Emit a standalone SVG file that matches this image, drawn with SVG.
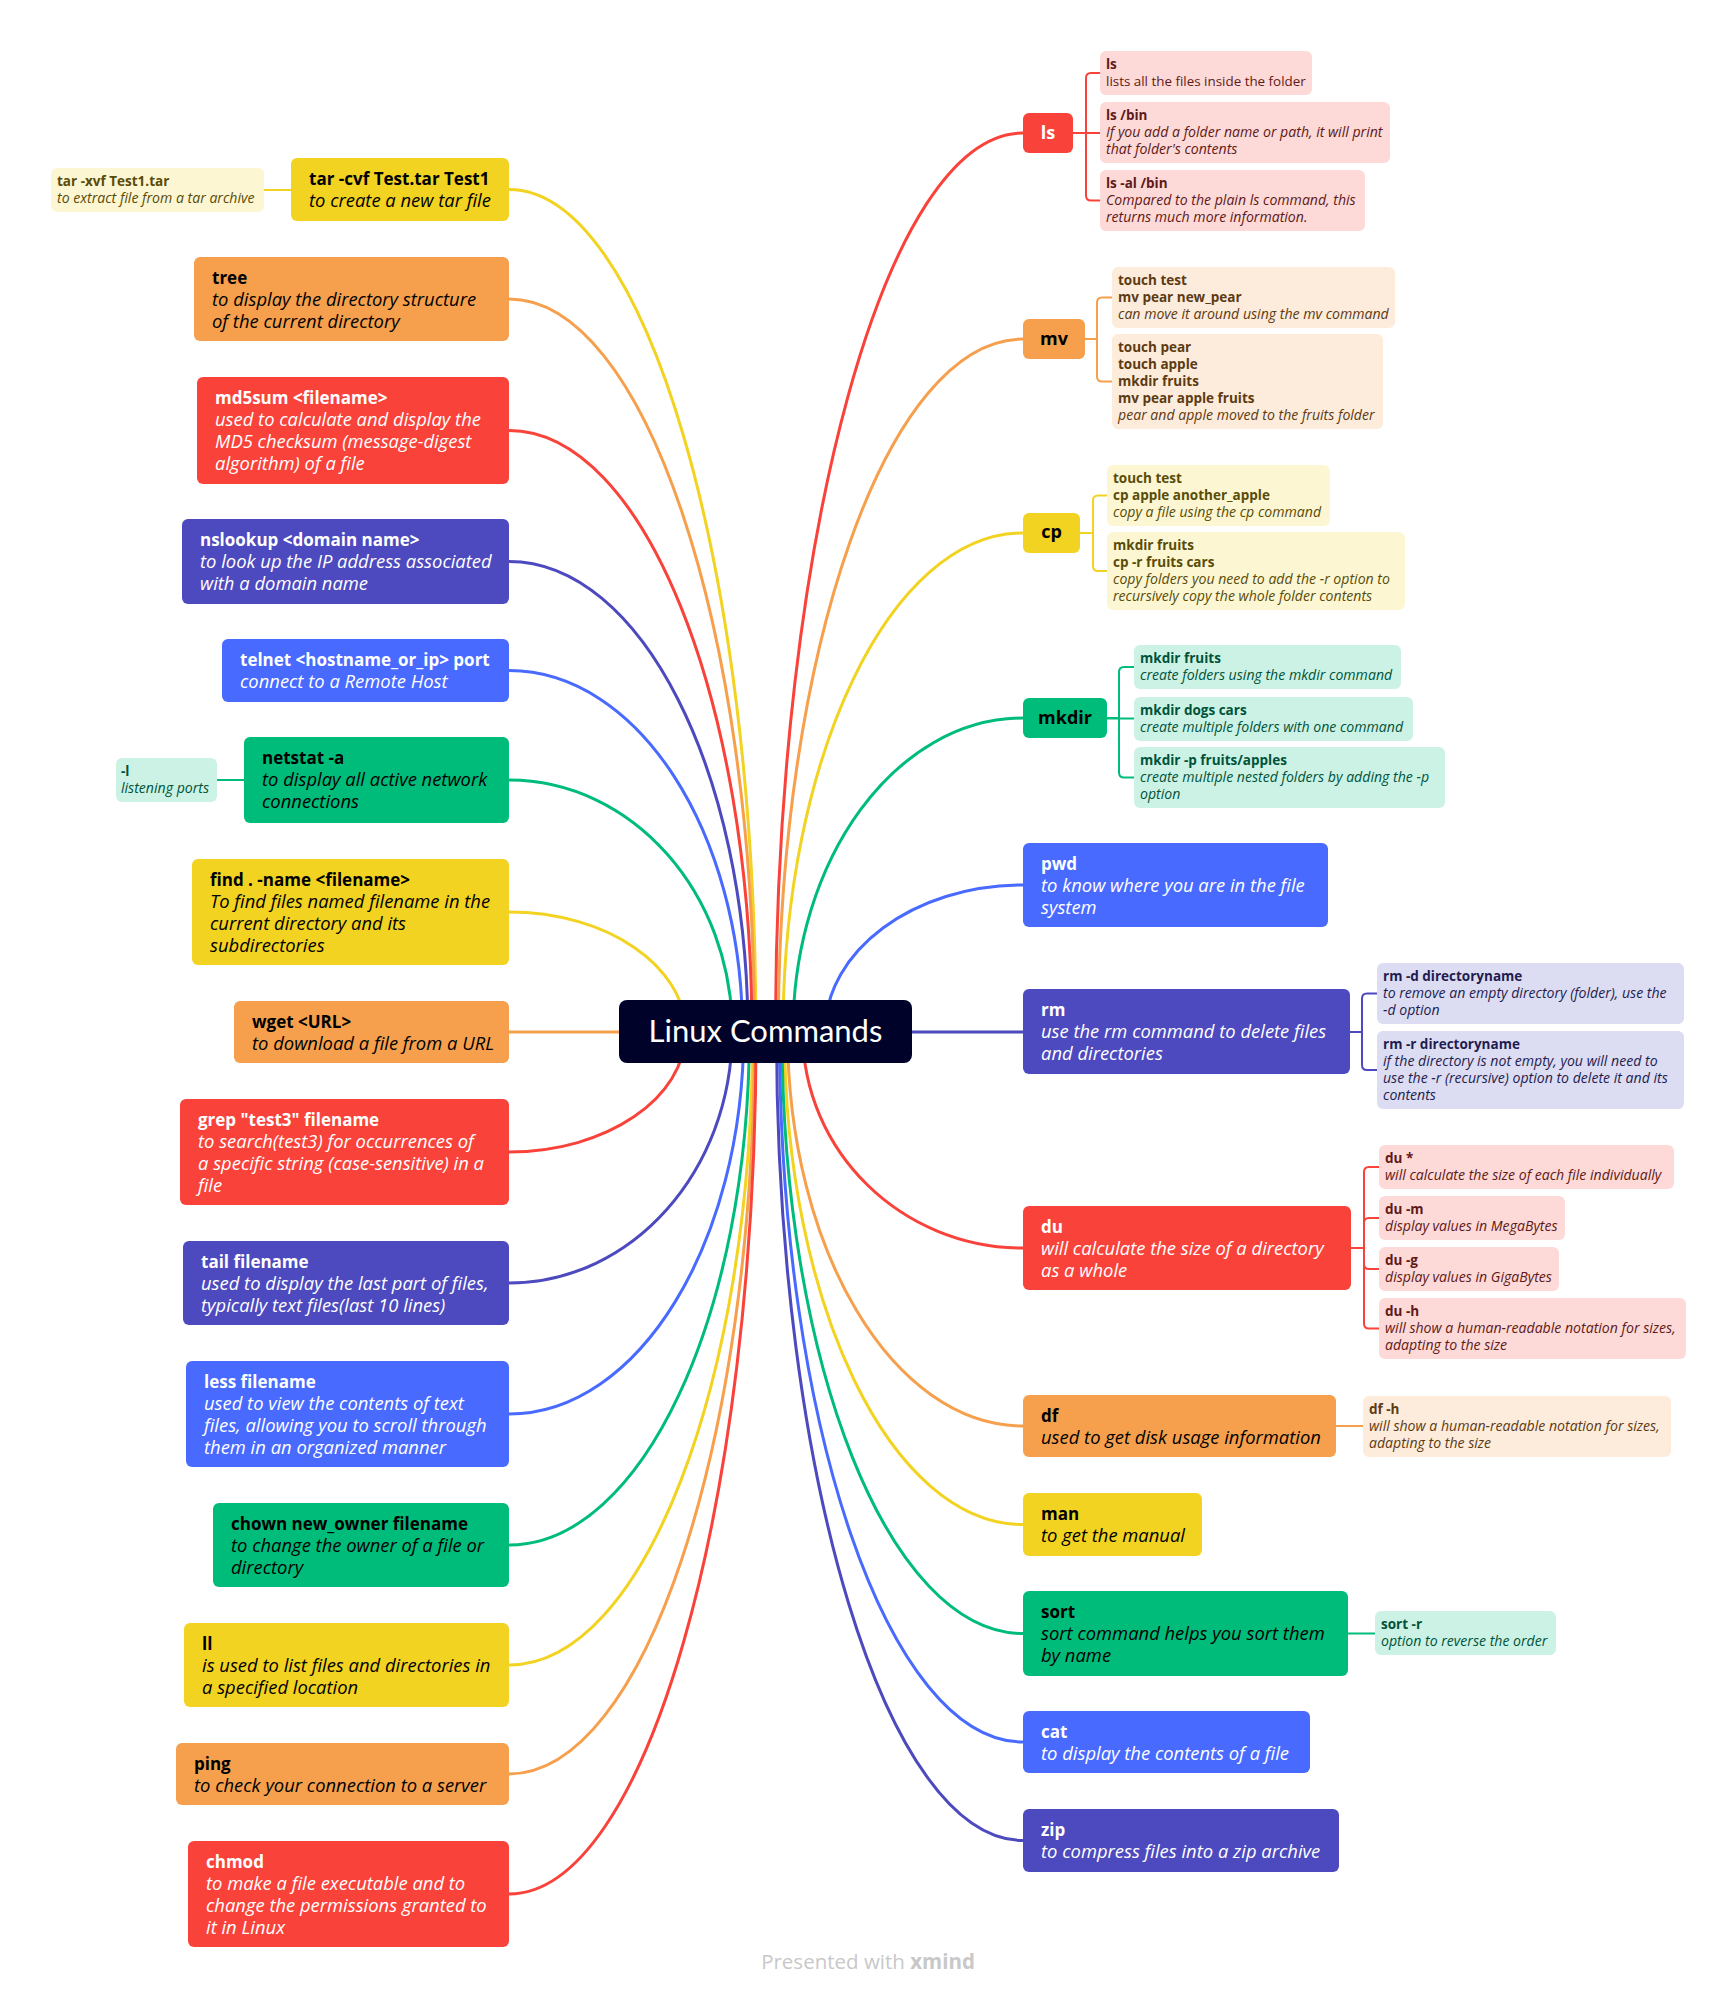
<svg xmlns="http://www.w3.org/2000/svg" width="1734" height="1998" viewBox="0 0 1734 1998">
<style>
text{font-family:"Open Sans","Liberation Sans",sans-serif}
.t{font-size:17px;font-weight:700}
.d{font-size:18.4px;font-style:italic}
.w{fill:#FFFFFF}
.k{fill:#000000}
.c1{font-size:18px;font-weight:700;text-anchor:middle}
.st{font-size:13.5px;font-weight:700}
.sd{font-size:14.1px;font-style:italic}
.sr{font-size:13.4px}
.cn{fill:none;stroke-width:3;stroke-linecap:round}
.br{fill:none;stroke-width:2}
.red{fill:#F9423A}.ora{fill:#F6A04D}.yel{fill:#F3D321}.grn{fill:#00BC7B}.blu{fill:#486AFF}.pur{fill:#4D49BE}
.sred{fill:#FDD9D8}.sora{fill:#FDECDB}.syel{fill:#FDF6D3}.sgrn{fill:#CCF2E5}.spur{fill:#DCDCF2}
.tred{fill:#5E1A17}.tora{fill:#5C3A12}.tyel{fill:#584C08}.tgrn{fill:#00523A}.tpur{fill:#1F1C50}
</style>
<rect width="1734" height="1998" fill="#FFFFFF"/>
<g id="connectors">
<path class="cn" stroke="#F3D321" d="M755.9,1032 C755.9,566.7 645.4,189.5 509,189.5"/>
<path class="cn" stroke="#F6A04D" d="M754.4,1032 C754.4,627.2 644.5,299 509,299"/>
<path class="cn" stroke="#F9423A" d="M751.9,1032 C751.9,699.8 643.2,430.5 509,430.5"/>
<path class="cn" stroke="#4D49BE" d="M747.9,1032 C747.9,772.1 640.9,561.5 509,561.5"/>
<path class="cn" stroke="#486AFF" d="M742.5,1032 C742.5,832.3 638,670.5 509,670.5"/>
<path class="cn" stroke="#00BC7B" d="M732.3,1032 C732.3,892.8 632.3,780 509,780"/>
<path class="cn" stroke="#F3D321" d="M685.6,1032 C685.6,965.7 606.5,912 509,912"/>
<path class="cn" stroke="#F6A04D" d="M766,1032 L509,1032"/>
<path class="cn" stroke="#F9423A" d="M685.6,1032 C685.6,1098.3 606.5,1152 509,1152"/>
<path class="cn" stroke="#4D49BE" d="M732.1,1032 C732.1,1170.6 632.2,1283 509,1283"/>
<path class="cn" stroke="#486AFF" d="M743.7,1032 C743.7,1243 638.6,1414 509,1414"/>
<path class="cn" stroke="#00BC7B" d="M749.4,1032 C749.4,1315.3 641.8,1545 509,1545"/>
<path class="cn" stroke="#F3D321" d="M752.6,1032 C752.6,1381.6 643.5,1665 509,1665"/>
<path class="cn" stroke="#F6A04D" d="M754.5,1032 C754.5,1441.8 644.6,1774 509,1774"/>
<path class="cn" stroke="#F9423A" d="M756.1,1032 C756.1,1508.1 645.5,1894 509,1894"/>
<path class="cn" stroke="#F9423A" d="M775.5,1032 C775.5,535.5 886.3,133 1023,133"/>
<path class="cn" stroke="#F6A04D" d="M778.3,1032 C778.3,649.3 887.9,339 1023,339"/>
<path class="cn" stroke="#F3D321" d="M783,1032 C783,756.4 890.4,533 1023,533"/>
<path class="cn" stroke="#00BC7B" d="M793,1032 C793,858.6 896,718 1023,718"/>
<path class="cn" stroke="#486AFF" d="M825,1032 C825,950.8 913.6,885 1023,885"/>
<path class="cn" stroke="#4D49BE" d="M766,1032 L1023,1032"/>
<path class="cn" stroke="#F9423A" d="M802.7,1032 C802.7,1151.3 901.3,1248 1023,1248"/>
<path class="cn" stroke="#F6A04D" d="M787.6,1032 C787.6,1249.6 893,1426 1023,1426"/>
<path class="cn" stroke="#F3D321" d="M784.5,1032 C784.5,1304 891,1524.5 1023,1524.5"/>
<path class="cn" stroke="#00BC7B" d="M782,1032 C782,1364.2 889.5,1633.5 1023,1633.5"/>
<path class="cn" stroke="#486AFF" d="M779.5,1032 C779.5,1424.1 888.3,1742 1023,1742"/>
<path class="cn" stroke="#4D49BE" d="M776.5,1032 C776.5,1478.5 886.9,1840.5 1023,1840.5"/>
<!-- sub connectors -->
<path class="br" stroke="#F3D321" d="M291,190 H264"/>
<path class="br" stroke="#00BC7B" d="M244,780 H217"/>
<path class="br" stroke="#F9423A" d="M1073,133 H1086 V78 Q1086,73 1091,73 H1100 M1073,133 H1100 M1086,133 V195.5 Q1086,200.5 1091,200.5 H1100"/>
<path class="br" stroke="#F6A04D" d="M1085,339 H1097 V302.5 Q1097,297.5 1102,297.5 H1112 M1097,339 V376.5 Q1097,381.5 1102,381.5 H1112"/>
<path class="br" stroke="#F3D321" d="M1080,533 H1093 V500.5 Q1093,495.5 1098,495.5 H1107 M1093,533 V566 Q1093,571 1098,571 H1107"/>
<path class="br" stroke="#00BC7B" d="M1107,718 H1119 V672 Q1119,667 1124,667 H1134 M1107,718.5 H1134 M1119,718 V772.5 Q1119,777.5 1124,777.5 H1134"/>
<path class="br" stroke="#4D49BE" d="M1350,1032 H1362 V998.5 Q1362,993.5 1367,993.5 H1377 M1362,1032 V1065 Q1362,1070 1367,1070 H1377"/>
<path class="br" stroke="#F9423A" d="M1351,1248 H1364 V1172 Q1364,1167 1369,1167 H1379 M1364,1223 Q1364,1218 1369,1218 H1379 M1364,1248 V1264 Q1364,1269 1369,1269 H1379 M1364,1264 V1323.5 Q1364,1328.5 1369,1328.5 H1379 M1364,1223 V1248"/>
<path class="br" stroke="#F6A04D" d="M1336,1426 H1363"/>
<path class="br" stroke="#00BC7B" d="M1348,1633.5 H1375"/>
</g>

<g id="center">
<rect x="619" y="1000" width="293" height="63" rx="8" fill="#000229"/>
<text x="765.5" y="1042" font-size="31" text-anchor="middle" class="w" style="font-family:Lato,'Open Sans',sans-serif">Linux Commands</text>
</g>

<!-- left nodes -->
<g id="tar">
<rect x="291" y="158" width="218" height="63" rx="6" class="yel"/>
<text class="t k" x="309" y="185">tar -cvf Test.tar Test1</text>
<text class="d k" x="309" y="207">to create a new tar file</text>
</g>
<g id="tar-xvf">
<rect x="51" y="168" width="213" height="44" rx="6" class="syel"/>
<text class="st tyel" x="57" y="186">tar -xvf Test1.tar</text>
<text class="sd tyel" x="57" y="203">to extract file from a tar archive</text>
</g>
<g id="tree">
<rect x="194" y="257" width="315" height="84" rx="6" class="ora"/>
<text class="t k" x="212" y="284">tree</text>
<text class="d k" x="212" y="306">to display the directory structure</text>
<text class="d k" x="212" y="328">of the current directory</text>
</g>
<g id="md5sum">
<rect x="197" y="377" width="312" height="107" rx="6" class="red"/>
<text class="t w" x="215" y="404">md5sum &lt;filename&gt;</text>
<text class="d w" x="215" y="426">used to calculate and display the</text>
<text class="d w" x="215" y="448">MD5 checksum (message-digest</text>
<text class="d w" x="215" y="470">algorithm) of a file</text>
</g>
<g id="nslookup">
<rect x="182" y="519" width="327" height="85" rx="6" class="pur"/>
<text class="t w" x="200" y="546">nslookup &lt;domain name&gt;</text>
<text class="d w" x="200" y="568">to look up the IP address associated</text>
<text class="d w" x="200" y="590">with a domain name</text>
</g>
<g id="telnet">
<rect x="222" y="639" width="287" height="63" rx="6" class="blu"/>
<text class="t w" x="240" y="666">telnet &lt;hostname_or_ip&gt; port</text>
<text class="d w" x="240" y="688">connect to a Remote Host</text>
</g>
<g id="netstat">
<rect x="244" y="737" width="265" height="86" rx="6" class="grn"/>
<text class="t k" x="262" y="764">netstat -a</text>
<text class="d k" x="262" y="786">to display all active network</text>
<text class="d k" x="262" y="808">connections</text>
</g>
<g id="netstat-l">
<rect x="116" y="758" width="101" height="44" rx="6" class="sgrn"/>
<text class="st tgrn" x="121" y="776">-l</text>
<text class="sd tgrn" x="121" y="793">listening ports</text>
</g>
<g id="find">
<rect x="192" y="859" width="317" height="106" rx="6" class="yel"/>
<text class="t k" x="210" y="886">find . -name &lt;filename&gt;</text>
<text class="d k" x="210" y="908">To find files named filename in the</text>
<text class="d k" x="210" y="930">current directory and its</text>
<text class="d k" x="210" y="952">subdirectories</text>
</g>
<g id="wget">
<rect x="234" y="1001" width="275" height="62" rx="6" class="ora"/>
<text class="t k" x="252" y="1028">wget &lt;URL&gt;</text>
<text class="d k" x="252" y="1050">to download a file from a URL</text>
</g>
<g id="grep">
<rect x="180" y="1099" width="329" height="106" rx="6" class="red"/>
<text class="t w" x="198" y="1126">grep "test3" filename</text>
<text class="d w" x="198" y="1148">to search(test3) for occurrences of</text>
<text class="d w" x="198" y="1170">a specific string (case-sensitive) in a</text>
<text class="d w" x="198" y="1192">file</text>
</g>
<g id="tail">
<rect x="183" y="1241" width="326" height="84" rx="6" class="pur"/>
<text class="t w" x="201" y="1268">tail filename</text>
<text class="d w" x="201" y="1290">used to display the last part of files,</text>
<text class="d w" x="201" y="1312">typically text files(last 10 lines)</text>
</g>
<g id="less">
<rect x="186" y="1361" width="323" height="106" rx="6" class="blu"/>
<text class="t w" x="204" y="1388">less filename</text>
<text class="d w" x="204" y="1410">used to view the contents of text</text>
<text class="d w" x="204" y="1432">files, allowing you to scroll through</text>
<text class="d w" x="204" y="1454">them in an organized manner</text>
</g>
<g id="chown">
<rect x="213" y="1503" width="296" height="84" rx="6" class="grn"/>
<text class="t k" x="231" y="1530">chown new_owner filename</text>
<text class="d k" x="231" y="1552">to change the owner of a file or</text>
<text class="d k" x="231" y="1574">directory</text>
</g>
<g id="ll">
<rect x="184" y="1623" width="325" height="84" rx="6" class="yel"/>
<text class="t k" x="202" y="1650">ll</text>
<text class="d k" x="202" y="1672">is used to list files and directories in</text>
<text class="d k" x="202" y="1694">a specified location</text>
</g>
<g id="ping">
<rect x="176" y="1743" width="333" height="62" rx="6" class="ora"/>
<text class="t k" x="194" y="1770">ping</text>
<text class="d k" x="194" y="1792">to check your connection to a server</text>
</g>
<g id="chmod">
<rect x="188" y="1841" width="321" height="106" rx="6" class="red"/>
<text class="t w" x="206" y="1868">chmod</text>
<text class="d w" x="206" y="1890">to make a file executable and to</text>
<text class="d w" x="206" y="1912">change the permissions granted to</text>
<text class="d w" x="206" y="1934">it in Linux</text>
</g>

<!-- right nodes -->
<g id="ls">
<rect x="1023" y="113" width="50" height="40" rx="6" class="red"/>
<text class="c1 w" x="1048" y="139">ls</text>
</g>
<g id="ls-1">
<rect x="1100" y="51" width="212" height="44" rx="6" class="sred"/>
<text class="st tred" x="1106" y="69">ls</text>
<text class="sr tred" x="1106" y="86">lists all the files inside the folder</text>
</g>
<g id="ls-2">
<rect x="1100" y="102" width="290" height="61" rx="6" class="sred"/>
<text class="st tred" x="1106" y="120">ls /bin</text>
<text class="sd tred" x="1106" y="137">If you add a folder name or path, it will print</text>
<text class="sd tred" x="1106" y="154">that folder's contents</text>
</g>
<g id="ls-3">
<rect x="1100" y="170" width="265" height="61" rx="6" class="sred"/>
<text class="st tred" x="1106" y="188">ls -al /bin</text>
<text class="sd tred" x="1106" y="205">Compared to the plain ls command, this</text>
<text class="sd tred" x="1106" y="222">returns much more information.</text>
</g>
<g id="mv">
<rect x="1023" y="319" width="62" height="40" rx="6" class="ora"/>
<text class="c1 k" x="1054" y="345">mv</text>
</g>
<g id="mv-1">
<rect x="1112" y="267" width="283" height="61" rx="6" class="sora"/>
<text class="st tora" x="1118" y="285">touch test</text>
<text class="st tora" x="1118" y="302">mv pear new_pear</text>
<text class="sd tora" x="1118" y="319">can move it around using the mv command</text>
</g>
<g id="mv-2">
<rect x="1112" y="334" width="271" height="95" rx="6" class="sora"/>
<text class="st tora" x="1118" y="352">touch pear</text>
<text class="st tora" x="1118" y="369">touch apple</text>
<text class="st tora" x="1118" y="386">mkdir fruits</text>
<text class="st tora" x="1118" y="403">mv pear apple fruits</text>
<text class="sd tora" x="1118" y="420">pear and apple moved to the fruits folder</text>
</g>
<g id="cp">
<rect x="1023" y="513" width="57" height="40" rx="6" class="yel"/>
<text class="c1 k" x="1051.5" y="538">cp</text>
</g>
<g id="cp-1">
<rect x="1107" y="465" width="223" height="61" rx="6" class="syel"/>
<text class="st tyel" x="1113" y="483">touch test</text>
<text class="st tyel" x="1113" y="500">cp apple another_apple</text>
<text class="sd tyel" x="1113" y="517">copy a file using the cp command</text>
</g>
<g id="cp-2">
<rect x="1107" y="532" width="298" height="78" rx="6" class="syel"/>
<text class="st tyel" x="1113" y="550">mkdir fruits</text>
<text class="st tyel" x="1113" y="567">cp -r fruits cars</text>
<text class="sd tyel" x="1113" y="584">copy folders you need to add the -r option to</text>
<text class="sd tyel" x="1113" y="601">recursively copy the whole folder contents</text>
</g>
<g id="mkdir">
<rect x="1023" y="698" width="84" height="40" rx="6" class="grn"/>
<text class="c1 k" x="1065" y="724">mkdir</text>
</g>
<g id="mkdir-1">
<rect x="1134" y="645" width="267" height="44" rx="6" class="sgrn"/>
<text class="st tgrn" x="1140" y="663">mkdir fruits</text>
<text class="sd tgrn" x="1140" y="680">create folders using the mkdir command</text>
</g>
<g id="mkdir-2">
<rect x="1134" y="697" width="279" height="44" rx="6" class="sgrn"/>
<text class="st tgrn" x="1140" y="715">mkdir dogs cars</text>
<text class="sd tgrn" x="1140" y="732">create multiple folders with one command</text>
</g>
<g id="mkdir-3">
<rect x="1134" y="747" width="311" height="61" rx="6" class="sgrn"/>
<text class="st tgrn" x="1140" y="765">mkdir -p fruits/apples</text>
<text class="sd tgrn" x="1140" y="782">create multiple nested folders by adding the -p</text>
<text class="sd tgrn" x="1140" y="799">option</text>
</g>
<g id="pwd">
<rect x="1023" y="843" width="305" height="84" rx="6" class="blu"/>
<text class="t w" x="1041" y="870">pwd</text>
<text class="d w" x="1041" y="892">to know where you are in the file</text>
<text class="d w" x="1041" y="914">system</text>
</g>
<g id="rm">
<rect x="1023" y="989" width="327" height="85" rx="6" class="pur"/>
<text class="t w" x="1041" y="1016">rm</text>
<text class="d w" x="1041" y="1038">use the rm command to delete files</text>
<text class="d w" x="1041" y="1060">and directories</text>
</g>
<g id="rm-1">
<rect x="1377" y="963" width="307" height="61" rx="6" class="spur"/>
<text class="st tpur" x="1383" y="981">rm -d directoryname</text>
<text class="sd tpur" x="1383" y="998">to remove an empty directory (folder), use the</text>
<text class="sd tpur" x="1383" y="1015">-d option</text>
</g>
<g id="rm-2">
<rect x="1377" y="1031" width="307" height="78" rx="6" class="spur"/>
<text class="st tpur" x="1383" y="1049">rm -r directoryname</text>
<text class="sd tpur" x="1383" y="1066">if the directory is not empty, you will need to</text>
<text class="sd tpur" x="1383" y="1083">use the -r (recursive) option to delete it and its</text>
<text class="sd tpur" x="1383" y="1100">contents</text>
</g>
<g id="du">
<rect x="1023" y="1206" width="328" height="84" rx="6" class="red"/>
<text class="t w" x="1041" y="1233">du</text>
<text class="d w" x="1041" y="1255">will calculate the size of a directory</text>
<text class="d w" x="1041" y="1277">as a whole</text>
</g>
<g id="du-1">
<rect x="1379" y="1145" width="295" height="44" rx="6" class="sred"/>
<text class="st tred" x="1385" y="1163">du *</text>
<text class="sd tred" x="1385" y="1180">will calculate the size of each file individually</text>
</g>
<g id="du-2">
<rect x="1379" y="1196" width="186" height="44" rx="6" class="sred"/>
<text class="st tred" x="1385" y="1214">du -m</text>
<text class="sd tred" x="1385" y="1231">display values in MegaBytes</text>
</g>
<g id="du-3">
<rect x="1379" y="1247" width="180" height="44" rx="6" class="sred"/>
<text class="st tred" x="1385" y="1265">du -g</text>
<text class="sd tred" x="1385" y="1282">display values in GigaBytes</text>
</g>
<g id="du-4">
<rect x="1379" y="1298" width="307" height="61" rx="6" class="sred"/>
<text class="st tred" x="1385" y="1316">du -h</text>
<text class="sd tred" x="1385" y="1333">will show a human-readable notation for sizes,</text>
<text class="sd tred" x="1385" y="1350">adapting to the size</text>
</g>
<g id="df">
<rect x="1023" y="1395" width="313" height="62" rx="6" class="ora"/>
<text class="t k" x="1041" y="1422">df</text>
<text class="d k" x="1041" y="1444">used to get disk usage information</text>
</g>
<g id="df-h">
<rect x="1363" y="1396" width="308" height="61" rx="6" class="sora"/>
<text class="st tora" x="1369" y="1414">df -h</text>
<text class="sd tora" x="1369" y="1431">will show a human-readable notation for sizes,</text>
<text class="sd tora" x="1369" y="1448">adapting to the size</text>
</g>
<g id="man">
<rect x="1023" y="1493" width="179" height="63" rx="6" class="yel"/>
<text class="t k" x="1041" y="1520">man</text>
<text class="d k" x="1041" y="1542">to get the manual</text>
</g>
<g id="sort">
<rect x="1023" y="1591" width="325" height="85" rx="6" class="grn"/>
<text class="t k" x="1041" y="1618">sort</text>
<text class="d k" x="1041" y="1640">sort command helps you sort them</text>
<text class="d k" x="1041" y="1662">by name</text>
</g>
<g id="sort-r">
<rect x="1375" y="1611" width="181" height="44" rx="6" class="sgrn"/>
<text class="st tgrn" x="1381" y="1629">sort -r</text>
<text class="sd tgrn" x="1381" y="1646">option to reverse the order</text>
</g>
<g id="cat">
<rect x="1023" y="1711" width="287" height="62" rx="6" class="blu"/>
<text class="t w" x="1041" y="1738">cat</text>
<text class="d w" x="1041" y="1760">to display the contents of a file</text>
</g>
<g id="zip">
<rect x="1023" y="1809" width="316" height="63" rx="6" class="pur"/>
<text class="t w" x="1041" y="1836">zip</text>
<text class="d w" x="1041" y="1858">to compress files into a zip archive</text>
</g>

<g id="footer">
<text x="868" y="1969" font-size="20.5" text-anchor="middle" fill="#C8C8C8">Presented with <tspan font-weight="700">xmind</tspan></text>
</g>
</svg>
